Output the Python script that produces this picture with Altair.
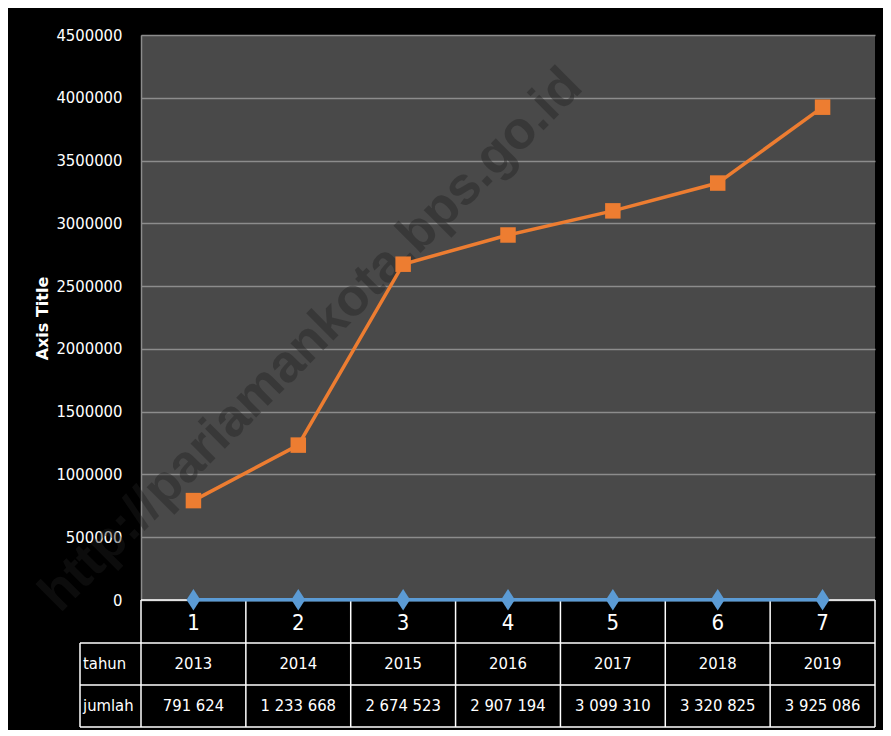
import altair as alt
import pandas as pd

# ---- data ----
idx = [1, 2, 3, 4, 5, 6, 7]
tahun = [2013, 2014, 2015, 2016, 2017, 2018, 2019]
jumlah = [791624, 1233668, 2674523, 2907194, 3099310, 3320825, 3925086]
y_ticks = [0, 500000, 1000000, 1500000, 2000000, 2500000, 3000000, 3500000, 4000000, 4500000]
row_labels = ["tahun", "jumlah"]
watermark = "http://pariamankota.bps.go.id"

df = pd.DataFrame({
    "idx": idx,
    "tahun": tahun,
    "jumlah": jumlah,
    "jumlah_lbl": [f"{v:,}".replace(",", " ") for v in jumlah],
    "idx_lbl": [str(i) for i in idx],
    "tahun_lbl": [str(t) for t in tahun],
})
bounds = pd.DataFrame({"b": [i - 0.5 for i in idx] + [idx[-1] + 0.5]})

W, H = 734, 565
FONT = "DejaVu Sans Condensed, Liberation Sans, sans-serif"
ORANGE = "#ED7D31"
BLUE = "#5B9BD5"

xs = alt.Scale(domain=[idx[0] - 0.5, idx[-1] + 0.5], nice=False, zero=False)
ys = alt.Scale(domain=[0, 4500000], nice=False)

X = alt.X("idx:Q", scale=xs, axis=None)

base = alt.Chart(df)

wm = alt.Chart(alt.Data(values=[{"t": watermark}])).mark_text(
    angle=315, fontSize=53, fontWeight="bold", font="Liberation Sans, Arial, sans-serif",
    color="#202020", opacity=0.4, align="center", baseline="middle"
).encode(text="t:N", x=alt.value(170), y=alt.value(305))

y_axis = alt.Axis(
    values=y_ticks, format="d", title="Axis Title", ticks=False,
    labelColor="white", labelFont=FONT, labelFontSize=16.5, labelPadding=19,
    domain=True, domainColor="#8c8c8c", domainWidth=1.5,
    grid=True, gridColor="#8c8c8c", gridWidth=1.5,
    titleColor="white", titleFont="DejaVu Sans", titleFontWeight="bold", titleFontSize=16,
    titleAngle=270, titleX=-99, titleY=283, titleAlign="center", titleBaseline="middle",
)

orange_line = base.mark_line(color=ORANGE, strokeWidth=3.5).encode(
    x=X, y=alt.Y("jumlah:Q", scale=ys, axis=y_axis)
)
orange_pts = base.mark_point(shape="square", filled=True, color=ORANGE, opacity=1, size=240).encode(
    x=X, y=alt.Y("jumlah:Q", scale=ys)
)

# table lines
vlines = alt.Chart(bounds).mark_rule(color="white", strokeWidth=1.5).encode(
    x=alt.X("b:Q", scale=xs, axis=None), y=alt.value(H), y2=alt.value(692)
)
hl_top = alt.Chart(alt.Data(values=[{}])).mark_rule(color="white", strokeWidth=1.5).encode(
    x=alt.value(0), x2=alt.value(W), y=alt.value(H)
)
hl_rows = [
    alt.Chart(alt.Data(values=[{}])).mark_rule(color="white", strokeWidth=1.5).encode(
        x=alt.value(-61), x2=alt.value(W), y=alt.value(yy)
    ) for yy in (608, 650, 692)
]
vl_left = alt.Chart(alt.Data(values=[{}])).mark_rule(color="white", strokeWidth=1.5).encode(
    x=alt.value(-61), y=alt.value(608), y2=alt.value(692)
)

blue_line = base.mark_line(color=BLUE, strokeWidth=3.5).encode(
    x=X, y=alt.Y("tahun:Q", scale=ys)
)
blue_pts = base.mark_point(
    shape="M0,-1.25L0.8,0L0,1.25L-0.8,0Z", filled=True, color=BLUE, opacity=1, size=300
).encode(x=X, y=alt.Y("tahun:Q", scale=ys))

t_idx = base.mark_text(color="white", font=FONT, fontSize=22, baseline="middle").encode(
    x=X, y=alt.value(588), text="idx_lbl:N"
)
t_tahun = base.mark_text(color="white", font=FONT, fontSize=16.5, baseline="middle").encode(
    x=X, y=alt.value(629), text="tahun_lbl:N"
)
t_jumlah = base.mark_text(color="white", font=FONT, fontSize=16.5, baseline="middle").encode(
    x=X, y=alt.value(671), text="jumlah_lbl:N"
)
hdr_tahun = alt.Chart(alt.Data(values=[{"lbl": row_labels[0]}])).mark_text(
    color="white", font=FONT, fontSize=16.5, baseline="middle", align="left"
).encode(x=alt.value(-58), y=alt.value(629), text="lbl:N")
hdr_jumlah = alt.Chart(alt.Data(values=[{"lbl": row_labels[1]}])).mark_text(
    color="white", font=FONT, fontSize=16.5, baseline="middle", align="left"
).encode(x=alt.value(-58), y=alt.value(671), text="lbl:N")

chart = alt.layer(
    wm, orange_line, orange_pts, hl_top, *hl_rows, vlines, vl_left,
    blue_line, blue_pts, t_idx, t_tahun, t_jumlah, hdr_tahun, hdr_jumlah
).properties(
    width=W, height=H,
    padding={"left": 133, "top": 27, "right": 8, "bottom": 130},
    autosize="none",
    background="black",
).configure_view(
    fill="#494949", stroke=None
)

chart.save("out.html", embed_options={"renderer": "svg", "actions": False})
